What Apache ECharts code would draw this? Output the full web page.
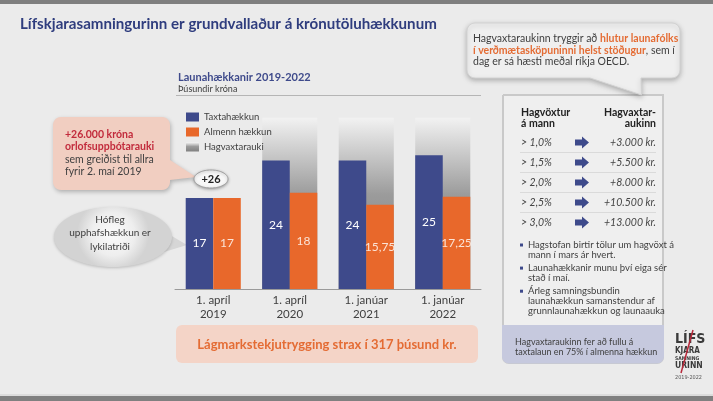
<!DOCTYPE html>
<html>
<head>
<meta charset="utf-8">
<script src="https://cdn.jsdelivr.net/npm/echarts@6/dist/echarts.min.js"></script>
<style>
html,body{margin:0;padding:0;background:#ebebeb;}
#c{width:713px;height:401px;}
</style>
</head>
<body>
<div id="c"></div>
<script>
// ---- Data ----
const categories = ['1. apríl\n2019', '1. apríl\n2020', '1. janúar\n2021', '1. janúar\n2022'];
const taxtahaekkun = [17, 24, 24, 25];
const almennHaekkun = [17, 18, 15.75, 17.25];
const hagvaxtarauki = [null, 32, 32, 32];
const seriesNames = ['Taxtahækkun', 'Almenn hækkun', 'Hagvaxtarauki'];
const growthLevels = ['> 1,0%', '> 1,5%', '> 2,0%', '> 2,5%', '> 3,0%'];
const growthBonus = ['+3.000 kr.', '+5.500 kr.', '+8.000 kr.', '+10.500 kr.', '+13.000 kr.'];
const bullets = [
  ['Hagstofan birtir tölur um hagvöxt á', 'mann í mars ár hvert.'],
  ['Launahækkanir munu því eiga sér', 'stað í maí.'],
  ['Árleg samningsbundin', 'launahækkun samanstendur af', 'grunnlaunahækkun og launaauka']
];

const FONT = 'Lato, "Open Sans", sans-serif';
const BLUE = '#3e4a8b';
const ORANGE = '#e8682b';
const TXT = '#404040';

const chart = echarts.init(document.getElementById('c'));
const fmt = p => String(p.value).replace('.', ',');

function arc(cx, cy, r, a0, a1, n) {
  const pts = [];
  for (let i = 0; i <= n; i++) {
    const a = (a0 + (a1 - a0) * i / n) * Math.PI / 180;
    pts.push([cx + r * Math.cos(a), cy + r * Math.sin(a)]);
  }
  return pts;
}
function bubble(x, y, w, h, r, tailRight, tailBottom) {
  let p = [];
  p = p.concat(arc(x + w - r, y + r, r, -90, 0, 6));
  if (tailRight) p = p.concat(tailRight);
  p = p.concat(arc(x + w - r, y + h - r, r, 0, 90, 6));
  if (tailBottom) p = p.concat(tailBottom);
  p = p.concat(arc(x + r, y + h - r, r, 90, 180, 6));
  p = p.concat(arc(x + r, y + r, r, 180, 270, 6));
  return p;
}
function ellipsePts(cx, cy, rx, ry) {
  const p = [];
  for (let i = 0; i < 72; i++) {
    const a = i / 72 * Math.PI * 2;
    p.push([cx + rx * Math.cos(a), cy + ry * Math.sin(a)]);
  }
  return p;
}

const g = [];
g.push({type:'rect', shape:{x:0,y:0,width:713,height:4}, style:{fill:'#7f7f7f'}});
g.push({type:'rect', shape:{x:0,y:396,width:713,height:5}, style:{fill:'#808080'}});
g.push({type:'rect', shape:{x:0,y:394,width:713,height:2}, style:{fill:'#dcdcdc'}});
g.push({type:'text', x:20, y:24, scaleX:0.944, style:{text:'Lífskjarasamningurinn er grundvallaður á krónutöluhækkunum', font:'bold 16px '+FONT, fill:'#2f3d7e', textVerticalAlign:'middle'}});
g.push({type:'text', x:178, y:77, style:{text:'Launahækkanir 2019-2022', font:'bold 11px '+FONT, fill:BLUE, textVerticalAlign:'middle'}});
g.push({type:'text', x:178, y:89, style:{text:'Þúsundir króna', font:'9px '+FONT, fill:TXT, textVerticalAlign:'middle'}});
g.push({type:'line', shape:{x1:176,y1:95.5,x2:481,y2:95.5}, style:{stroke:'#b5b5b5', lineWidth:1}});

// pink callout with tail
g.push({type:'polygon', shape:{points:bubble(53,117,117,73,8,[[170,160],[196,177],[170,180]],null)},
  style:{fill:'#f1cec1', shadowBlur:4, shadowColor:'rgba(0,0,0,0.25)', shadowOffsetX:1, shadowOffsetY:2}});
g.push({type:'text', x:65, y:135, style:{text:'+26.000 króna', font:'bold 10.5px '+FONT, fill:'#c22b3c', textVerticalAlign:'middle'}});
g.push({type:'text', x:65, y:147, style:{text:'orlofsuppbótarauki', font:'bold 10.5px '+FONT, fill:'#c22b3c', textVerticalAlign:'middle'}});
g.push({type:'text', x:65, y:160, style:{text:'sem greiðist til allra', font:'10.5px '+FONT, fill:TXT, textVerticalAlign:'middle'}});
g.push({type:'text', x:65, y:172, style:{text:'fyrir 2. maí 2019', font:'10.5px '+FONT, fill:TXT, textVerticalAlign:'middle'}});
g.push({type:'polygon', shape:{points:ellipsePts(211,179,17,9)}, style:{fill:'#f7f7f7', stroke:'#a0a0a0', lineWidth:1, shadowBlur:3, shadowColor:'rgba(0,0,0,0.3)', shadowOffsetY:1}, z:10});
g.push({type:'text', x:211, y:179, style:{text:'+26', font:'bold 11px '+FONT, fill:'#222', textAlign:'center', textVerticalAlign:'middle'}, z:11});

// Hófleg bubble
g.push({type:'polygon', shape:{points:[[160,229],[187,245],[164,252]]}, style:{fill:'#d6d6d6'}});
g.push({type:'polygon', shape:{points:ellipsePts(113,237,59,30)},
  style:{fill:new echarts.graphic.RadialGradient(0.5,0.45,0.6,[{offset:0,color:'#fbfbfb'},{offset:0.6,color:'#eeeeee'},{offset:1,color:'#d3d3d3'}]), shadowBlur:3, shadowColor:'rgba(0,0,0,0.2)', shadowOffsetY:1}});
g.push({type:'text', x:110, y:219.5, style:{text:'Hófleg', font:'10px '+FONT, fill:TXT, textAlign:'center', textVerticalAlign:'middle'}});
g.push({type:'text', x:110, y:233, style:{text:'upphafshækkun er', font:'10px '+FONT, fill:TXT, textAlign:'center', textVerticalAlign:'middle'}});
g.push({type:'text', x:110, y:246.5, style:{text:'lykilatriði', font:'10px '+FONT, fill:TXT, textAlign:'center', textVerticalAlign:'middle'}});

// bottom pink box
g.push({type:'rect', shape:{x:176,y:325,width:302,height:38,r:6}, style:{fill:'#f4d4c7'}});
g.push({type:'text', x:327, y:345, style:{text:'Lágmarkstekjutrygging strax í 317 þúsund kr.', font:'bold 13px '+FONT, fill:'#e46c34', textAlign:'center', textVerticalAlign:'middle'}});

// right bubble
g.push({type:'polygon', shape:{points:bubble(467,23,213,55,8,null,[[641,78],[641.5,95],[590,78]])},
  style:{fill:'#efefef', stroke:'#d2d2d2', lineWidth:1, shadowBlur:5, shadowColor:'rgba(0,0,0,0.25)', shadowOffsetY:2}, z:5});
g.push({type:'text', x:473, y:39, z:6, style:{text:'{n|Hagvaxtaraukinn tryggir að }{o|hlutur launafólks}', textVerticalAlign:'middle',
  rich:{n:{font:'10.5px '+FONT, fill:TXT}, o:{font:'bold 10.5px '+FONT, fill:'#e46c34'}}}});
g.push({type:'text', x:473, y:50.5, z:6, style:{text:'{o|í verðmætasköpuninni helst stöðugur}{n|, sem í}', textVerticalAlign:'middle',
  rich:{n:{font:'10.5px '+FONT, fill:TXT}, o:{font:'bold 10.5px '+FONT, fill:'#e46c34'}}}});
g.push({type:'text', x:473, y:62, z:6, style:{text:'dag er sá hæsti meðal ríkja OECD.', font:'10.5px '+FONT, fill:TXT, textVerticalAlign:'middle'}});

// table box
g.push({type:'rect', shape:{x:503,y:95,width:160,height:268,r:[0,0,6,6]}, style:{fill:'#efefef', stroke:'#c9c9c9', lineWidth:2}, z:3});
g.push({type:'rect', shape:{x:502,y:325,width:162,height:38.5,r:[0,0,7,7]}, style:{fill:'#c6c9de'}, z:4});
g.push({type:'text', x:515, y:342, z:5, style:{text:'Hagvaxtaraukinn fer að fullu á', font:'9px '+FONT, fill:TXT, textVerticalAlign:'middle'}});
g.push({type:'text', x:515, y:352, z:5, style:{text:'taxtalaun en 75% í almenna hækkun', font:'9px '+FONT, fill:TXT, textVerticalAlign:'middle'}});
g.push({type:'text', x:521, y:113, z:5, style:{text:'Hagvöxtur', font:'bold 10.5px '+FONT, fill:'#222', textVerticalAlign:'middle'}});
g.push({type:'text', x:521, y:124, z:5, style:{text:'á mann', font:'bold 10.5px '+FONT, fill:'#222', textVerticalAlign:'middle'}});
g.push({type:'text', x:656, y:113, z:5, style:{text:'Hagvaxtar-', font:'bold 10.5px '+FONT, fill:'#222', textAlign:'right', textVerticalAlign:'middle'}});
g.push({type:'text', x:656, y:124, z:5, style:{text:'aukinn', font:'bold 10.5px '+FONT, fill:'#222', textAlign:'right', textVerticalAlign:'middle'}});
growthLevels.forEach((lv, i) => {
  const y = 142.5 + i * 20;
  g.push({type:'text', x:521, y:y, z:5, style:{text:lv, font:'italic 10.5px '+FONT, fill:'#444', textVerticalAlign:'middle'}});
  g.push({type:'text', x:656, y:y, z:5, style:{text:growthBonus[i], font:'italic 10.5px '+FONT, fill:'#444', textAlign:'right', textVerticalAlign:'middle'}});
  g.push({type:'polygon', z:5, shape:{points:[[575,y-3],[582,y-3],[582,y-6],[589,y],[582,y+6],[582,y+3],[575,y+3]]}, style:{fill:BLUE}});
  if (i < growthLevels.length - 1) {
    g.push({type:'line', z:5, shape:{x1:520,y1:y+10,x2:656,y2:y+10}, style:{stroke:'#dadada', lineWidth:1}});
  }
});
let by = 245;
bullets.forEach(lines => {
  g.push({type:'rect', z:5, shape:{x:520,y:by-1.5,width:3,height:3}, style:{fill:BLUE}});
  lines.forEach(l => {
    g.push({type:'text', x:528, y:by, z:5, style:{text:l, font:'9.5px '+FONT, fill:TXT, textVerticalAlign:'middle'}});
    by += 9.8;
  });
  by += 3.5;
});

// logo
const LF = '"DejaVu Sans Condensed", "Liberation Sans Narrow", sans-serif';
g.push({type:'text', x:675, y:339, style:{text:'LÍFS', font:'bold 14px '+LF, fill:'#3a3a3a', textVerticalAlign:'middle'}});
g.push({type:'text', x:675, y:351, style:{text:'KJARA', font:'bold 8px '+LF, fill:'#3a3a3a', textVerticalAlign:'middle'}});
g.push({type:'text', x:675, y:358.5, style:{text:'SAMNING', font:'bold 5px '+LF, fill:'#3a3a3a', textVerticalAlign:'middle'}});
g.push({type:'text', x:675, y:366, style:{text:'URINN', font:'bold 8.5px '+LF, fill:'#3a3a3a', textVerticalAlign:'middle'}});
g.push({type:'text', x:675, y:378, style:{text:'2019-2022', font:'5.5px '+LF, fill:'#555', textVerticalAlign:'middle'}});
g.push({type:'line', shape:{x1:693,y1:330,x2:681,y2:373}, style:{stroke:'#b8283a', lineWidth:1.5}});

const grayGrad = new echarts.graphic.LinearGradient(0,0,0,1,[
  {offset:0,color:'#f2f2f2'},{offset:0.45,color:'#9b9b9b'},{offset:1,color:'#808080'}]);

chart.setOption({
  backgroundColor:'#ebebeb',
  animation:false,
  textStyle:{fontFamily:FONT},
  grid:{left:175, width:306, top:115, bottom:112},
  legend:{
    orient:'vertical', left:181, top:107, itemWidth:13, itemHeight:9, itemGap:5,
    data:seriesNames, icon:'rect',
    textStyle:{fontSize:9.5, color:TXT, fontFamily:FONT}
  },
  xAxis:[
    {type:'category', data:categories, axisTick:{show:false},
     axisLine:{lineStyle:{color:'#9a9a9a', width:1}},
     axisLabel:{color:TXT, fontSize:11.5, lineHeight:13.5, margin:5, fontFamily:FONT}},
    {type:'category', data:categories, show:false}
  ],
  yAxis:{type:'value', min:0, max:32.5, show:false},
  series:[
    {name:seriesNames[0], type:'bar', data:taxtahaekkun, xAxisIndex:0, barGap:'0%', barCategoryGap:'28%', z:3,
     itemStyle:{color:BLUE},
     label:{show:true, position:'inside', color:'#ffffff', fontSize:12, formatter:fmt}},
    {name:seriesNames[1], type:'bar', data:almennHaekkun, xAxisIndex:0, z:3,
     itemStyle:{color:ORANGE},
     label:{show:true, position:'inside', color:'#fbe3d6', fontSize:12, formatter:fmt}},
    {name:seriesNames[2], type:'bar', data:hagvaxtarauki, xAxisIndex:1, barCategoryGap:'28%', z:1,
     itemStyle:{color:grayGrad}}
  ],
  graphic:g
});
</script>
</body>
</html>
